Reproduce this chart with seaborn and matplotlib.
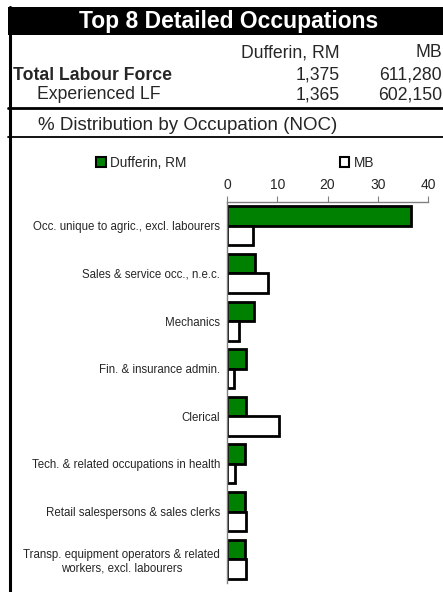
import numpy as np
import pandas as pd
import matplotlib
matplotlib.use("Agg")
import matplotlib.pyplot as plt
import seaborn as sns
from matplotlib.patches import Rectangle
from matplotlib.lines import Line2D

# datos
occupations = [
    "Occ. unique to agric., excl. labourers",
    "Sales & service occ., n.e.c.",
    "Mechanics",
    "Fin. & insurance admin.",
    "Clerical",
    "Tech. & related occupations in health",
    "Retail salespersons & sales clerks",
    "Transp. equipment operators & related\nworkers, excl. labourers",
]
dufferin = [36.6, 5.6, 5.4, 3.8, 3.8, 3.5, 3.5, 3.5]
mb = [5.1, 8.2, 2.4, 1.3, 10.4, 1.5, 3.8, 3.7]
areas = ["Dufferin, RM", "MB"]
x_ticks = [0, 10, 20, 30, 40]

df = pd.DataFrame({
    "occ": occupations * 2,
    "area": [areas[0]] * len(occupations) + [areas[1]] * len(occupations),
    "pct": dufferin + mb,
})

sns.set_style("white")
plt.rcParams["font.family"] = ["Liberation Sans", "DejaVu Sans"]

W, H = 443, 592
fig = plt.figure(figsize=(W / 100, H / 100), dpi=100)

def fx(px):
    return px / W

def fy(py):
    return 1 - py / H

# --- cabecera tipo tabla ---
fig.patches.append(Rectangle((fx(8), fy(35)), fx(W), 28 / H, transform=fig.transFigure,
                             facecolor="black", edgecolor="none"))
fig.text(fx(229), fy(21.5), "Top 8 Detailed Occupations", color="white", fontsize=16.5,
         fontweight="bold", ha="center", va="center")
fs = 12.7
fig.text(fx(340), fy(57), "Dufferin, RM", fontsize=fs, ha="right", va="baseline")
fig.text(fx(442), fy(57), "MB", fontsize=fs, ha="right", va="baseline")
fig.text(fx(13), fy(80), "Total Labour Force", fontsize=fs, fontweight="bold", ha="left", va="baseline")
fig.text(fx(340), fy(80), "1,375", fontsize=fs, ha="right", va="baseline")
fig.text(fx(442), fy(80), "611,280", fontsize=fs, ha="right", va="baseline")
fig.text(fx(37), fy(99), "Experienced LF", fontsize=fs, ha="left", va="baseline")
fig.text(fx(340), fy(99), "1,365", fontsize=fs, ha="right", va="baseline")
fig.text(fx(442), fy(99), "602,150", fontsize=fs, ha="right", va="baseline")
fig.text(fx(188), fy(130), "% Distribution by Occupation (NOC)", fontsize=13.5, ha="center", va="baseline")

fig.lines.append(Line2D([fx(8), 1], [fy(108.5), fy(108.5)], transform=fig.transFigure, color="black", lw=2))
fig.lines.append(Line2D([fx(8), 1], [fy(137), fy(137)], transform=fig.transFigure, color="black", lw=1.3))
fig.lines.append(Line2D([fx(9.5), fx(9.5)], [fy(7), 0], transform=fig.transFigure, color="black", lw=2.2))

# --- grafico de barras ---
ax = fig.add_axes([fx(227), fy(583), fx(428) - fx(227), fy(202) - fy(583)])
sns.barplot(data=df, y="occ", x="pct", hue="area", orient="h", ax=ax,
            palette=["#008000", "white"], edgecolor="black", linewidth=2,
            width=0.82, saturation=1)

ax.set_xlim(0, 40)
ax.set_xticks(x_ticks)
ax.xaxis.tick_top()
ax.set_xlabel("")
ax.set_ylabel("")
ax.tick_params(axis="x", direction="out", length=4, color="#808080", labelsize=10, pad=3)
ax.set_ylim(len(occupations) - 0.5, -0.5)
ax.set_yticks(np.arange(len(occupations) + 1) - 0.5, minor=True)
ax.tick_params(axis="y", which="minor", direction="out", length=4, color="#808080")
ax.tick_params(axis="y", which="major", length=0, labelsize=8.3, pad=5)
for lab in ax.get_yticklabels():
    lab.set_multialignment("center")
for side in ["right", "bottom"]:
    ax.spines[side].set_visible(False)
for side in ["top", "left"]:
    ax.spines[side].set_color("#808080")
    ax.spines[side].set_linewidth(1)

handles, labels = ax.get_legend_handles_labels()
for h in handles:
    h.set_linewidth(1.5)
ax.legend(handles, labels, ncol=2, frameon=False, loc="center left",
          bbox_to_anchor=(fx(96), fy(163)), bbox_transform=fig.transFigure,
          fontsize=9.8, handlelength=0.7, handleheight=0.7, handletextpad=0.3,
          columnspacing=11.3, borderpad=0, borderaxespad=0)

fig.savefig("out.png", dpi=100)
